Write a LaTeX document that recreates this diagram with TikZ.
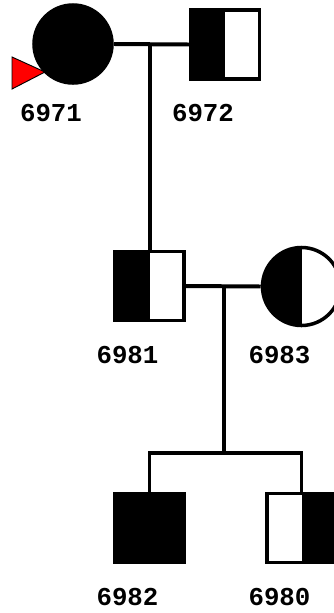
\documentclass[tikz,border=0pt]{standalone}
\usepackage{fontspec}
\setmonofont{Liberation Mono}
\usetikzlibrary{calc}
\newcommand{\person}[5]{\node[#4] (#1) at (#2,#3) {};
        \node[idlabel] (#1-id) at (#2-22,#3+69) {#5};}
\newcommand{\proband}[2]{\coordinate (tip) at (#1-28,#2+28);
        \filldraw[fill=red, draw=black, line width=0.8pt] (tip) -- ++(-33,-15) -- ++(0,32) -- cycle;}

\begin{document}
\begin{tikzpicture}
                [x=0.03cm, y=-0.03cm,
                male/.style={rectangle,draw=black,line width=3pt,minimum size=2.06cm,inner sep=0pt},
                female/.style={circle,draw=black,line width=3pt,minimum size=2.34cm,inner sep=0pt},
                affected/.style={fill=black},
                lefthalf/.style={path picture={\fill[black] (path picture bounding box.south west) rectangle (path picture bounding box.north);}},
                righthalf/.style={path picture={\fill[black] (path picture bounding box.south) rectangle (path picture bounding box.north east);}},
                idlabel/.style={font=\ttfamily\bfseries\fontsize{22}{22}\selectfont},
                line/.style={line width=3.4pt},
                ]
                \useasboundingbox (0,0) rectangle (333,613);
                \proband{73}{44}
                \person{p6971}{73}{44}{female,affected}{6971}
                \person{p6972}{225}{44.5}{male,lefthalf}{6972}
                \person{p6981}{149.5}{286}{male,lefthalf}{6981}
                \person{p6983}{301.5}{286.5}{female,lefthalf}{6983}
                \person{p6982}{149.5}{528}{male,affected}{6982}
                \person{p6980}{301.5}{528}{male,righthalf}{6980}
                % couples
                \coordinate (m1) at (150,44);
                \coordinate (m2) at (224,287);
                \coordinate (sib) at (224,453);
                \draw[line] (p6971.east) -- (p6972.west);
                \draw[line] (m1) -- (m1 |- p6981.north);
                \draw[line] (p6981.east) -- (p6983.west);
                \draw[line] (m2) -- (sib);
                \draw[line] (p6982.north) |- (sib) -| (p6980.north);
            \end{tikzpicture}
\end{document}
